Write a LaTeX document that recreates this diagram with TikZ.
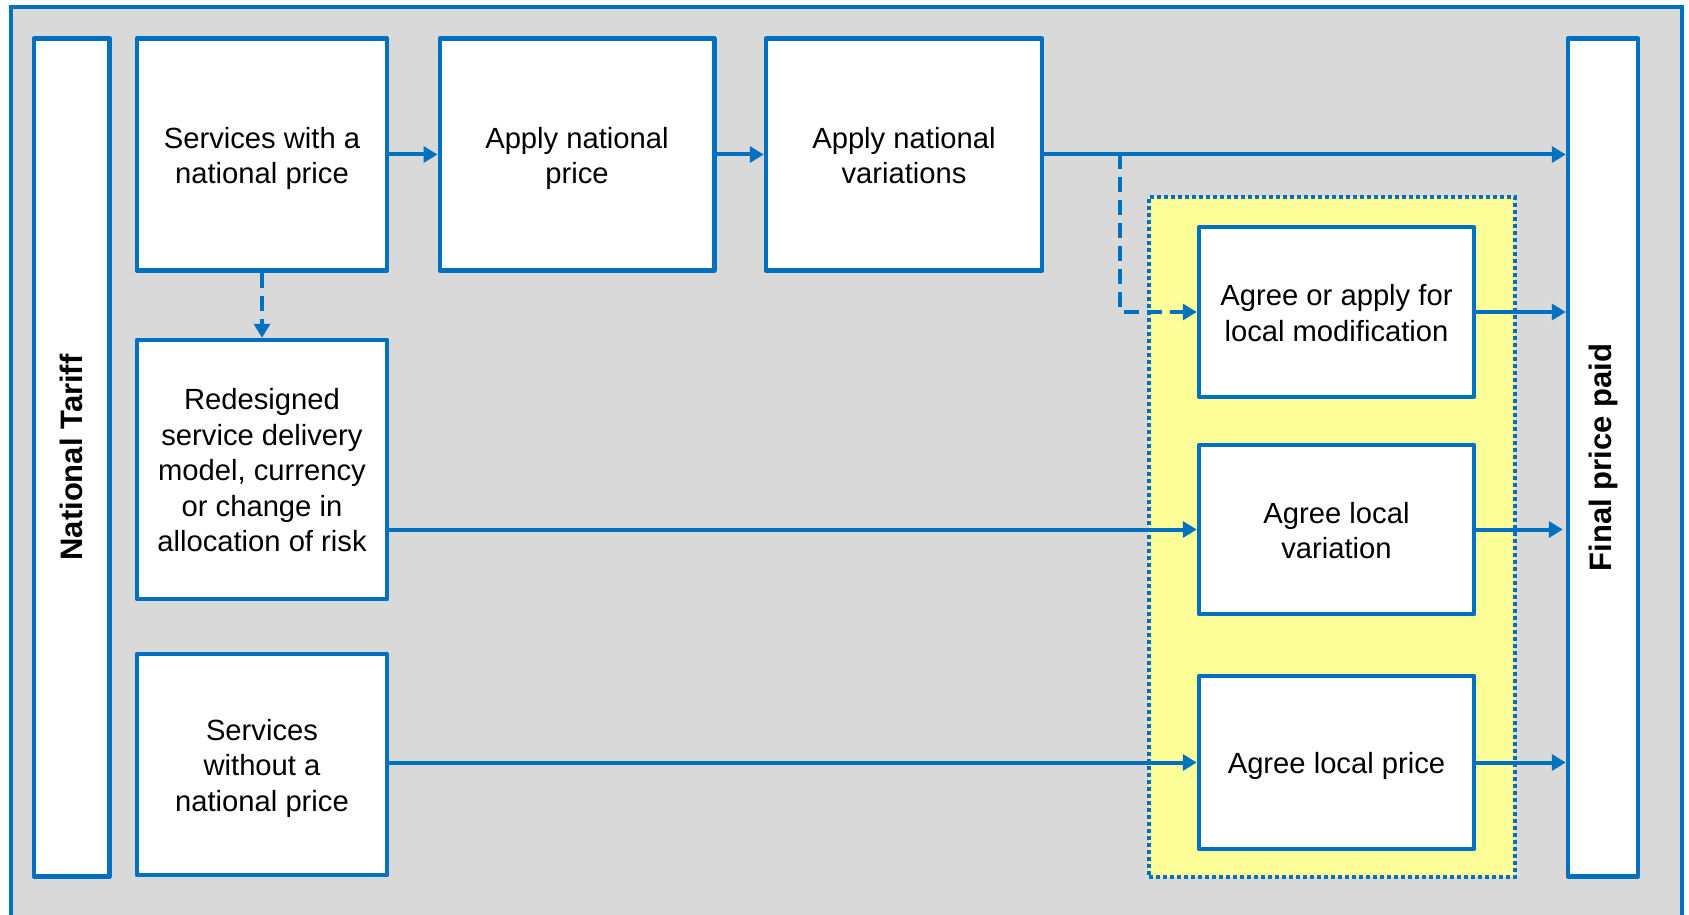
\documentclass[tikz,border=0pt]{standalone}
\usepackage{fontspec}
\setmainfont{Liberation Sans}
\usetikzlibrary{arrows.meta}
\definecolor{nblue}{HTML}{0070C0}
\definecolor{bggray}{HTML}{D9D9D9}
\definecolor{lyellow}{HTML}{FFFF99}
\newcommand\boxtxt[1]{\rule{0pt}{14.45pt}#1\rule[-3.1pt]{0pt}{3.1pt}}
\begin{document}
\begin{tikzpicture}[x=0.5pt,y=-0.5pt,
  frame/.style={draw=nblue, fill=white, line width=2.25pt, line join=round, inner sep=0pt, align=center},
  box/.style={frame, font=\fontsize{14.6pt}{17.75pt}\selectfont},
  sidebox/.style={frame, rotate=90, font=\bfseries\fontsize{15.5pt}{18pt}\selectfont},
  conn/.style={draw=nblue, line width=2pt, -{Triangle[length=7pt,width=8pt]}},
  dconn/.style={conn, dash pattern=on 7.5pt off 4pt},
  zonebox/.style={draw=nblue, fill=lyellow, line width=2pt, dash pattern=on 2pt off 1.5pt, inner sep=0pt}
]
\useasboundingbox (0,0) rectangle (1689,914);
\begin{scope}
  \clip (0,0) rectangle (1689,914);
  \draw[nblue, fill=bggray, line width=2.25pt] (11,7) rectangle (1682,980);
\end{scope}

\node[zonebox, minimum width=183pt, minimum height=340pt] (zone) at (1332,537) {};

\node[sidebox, minimum width=419pt, minimum height=37.75pt] (nt) at (71.75,457.5) {National Tariff};
\node[sidebox, minimum width=419pt, minimum height=35pt] (final) at (1603,457.5) {Final price paid};

\node[box, minimum width=125pt, minimum height=116pt] (sw) at (262,154.5) {\boxtxt{Services with a\\national price}};
\node[box, minimum width=137.25pt, minimum height=116pt] (anp) at (577,154.5) {\boxtxt{Apply national\\price}};
\node[box, minimum width=138pt, minimum height=116pt] (anv) at (904,154.5) {\boxtxt{Apply national\\variations}};
\node[box, minimum width=125pt, minimum height=129.5pt] (rd) at (262,469.5) {\boxtxt{Redesigned\\service delivery\\model, currency\\or change in\\allocation of risk}};
\node[box, minimum width=125pt, minimum height=110.5pt] (swo) at (262,764.5) {\boxtxt{Services\\without a\\national price}};

\node[box, minimum width=137.5pt, minimum height=85pt] (ag1) at (1336.5,312) {\boxtxt{Agree or apply for\\local modification}};
\node[box, minimum width=137.5pt, minimum height=84.5pt] (ag2) at (1336.5,529.5) {\boxtxt{Agree local\\variation}};
\node[box, minimum width=137.5pt, minimum height=86.5pt] (ag3) at (1336.5,762.5) {\boxtxt{Agree local price}};

\coordinate (br) at (1120,154.5);

\draw[conn] (sw.east) -- (anp.west);
\draw[conn] (anp.east) -- (anv.west);
\draw[conn] (anv.east) -- (anv.east -| final.north);
\draw[dconn] (br) |- (ag1.west);
\draw[dconn] (sw.south) -- (rd.north);
\draw[conn] (rd.east |- ag2.west) -- (ag2.west);
\draw[conn] (swo.east |- ag3.west) -- (ag3.west);
\draw[conn] (ag1.east) -- (ag1.east -| final.north);
\draw[conn, shorten >=1.5pt] (ag2.east) -- (ag2.east -| final.north);
\draw[conn] (ag3.east) -- (ag3.east -| final.north);
\end{tikzpicture}
\end{document}
